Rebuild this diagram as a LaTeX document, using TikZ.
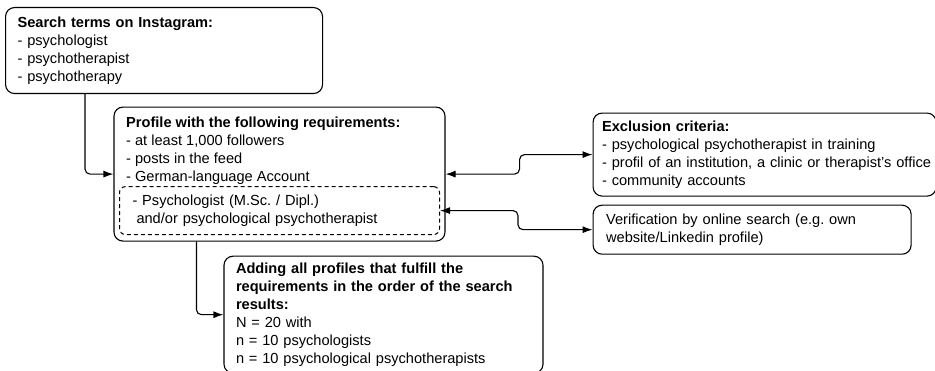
\documentclass[tikz,border=0pt]{standalone}
\usepackage{fontspec}
\setmainfont{Liberation Sans}
\usetikzlibrary{arrows.meta}
\usetikzlibrary{positioning}
\usetikzlibrary{fit}
\frenchspacing
\definecolor{fg}{rgb}{0,0,0}
\tikzstyle{box}=[draw=fg, rounded corners=9pt, line width=1.1pt, anchor=north west,
align=left, text=fg, inner xsep=12pt, inner ysep=0pt, font=\fontsize{14.6}{18}\selectfont]
\tikzstyle{plain}=[anchor=north west, align=left, text=fg, inner xsep=0pt, inner ysep=4pt,
font=\fontsize{14.6}{18}\selectfont]
\tikzstyle{dashbox}=[box, line width=1pt, dash pattern=on 4pt off 3pt, rounded corners=6pt, inner xsep=13pt]
\tikzstyle{myarrow}=[-{Latex[length=10pt,width=7pt]}, line width=1.1pt, rounded corners=5pt]
\tikzstyle{twoway}=[myarrow, {Latex[length=10pt,width=7pt]}-{Latex[length=10pt,width=7pt]}]

\begin{document}
\begin{tikzpicture}[x=1pt, y=-1pt]
    \useasboundingbox (0,0) rectangle (935,371);

    \node[box, text width=293pt, minimum height=86pt] (search) at (5,7)
        {\textbf{Search terms on Instagram:}\\- psychologist\\- psychotherapist\\- psychotherapy};

    \node[plain, below right=19pt and 121pt of search.south west] (req)
        {\textbf{Profile with the following requirements:}\\- at least 1,000 followers\\- posts in the feed\\- German-language Account};
    \node[dashbox, text width=294pt, minimum height=48pt, below right=73pt and -7pt of req.north west] (psych)
        {- Psychologist (M.Sc. / Dipl.)\\\hspace*{4pt}and/or psychological psychotherapist};
    \node[box, fit=(req)(psych), inner xsep=5pt, inner ysep=6pt] (profile) {};
    \draw[myarrow] ([xshift=80pt]search.south west) |- (profile.west) ;

    \node[box, text width=295pt, minimum height=117pt, below right=14pt and 110pt of profile.south west] (adding)
        {\textbf{Adding all profiles that fulfill the}\\\textbf{requirements in the order of the search}\\\textbf{results:}\\N = 20 with\\n = 10 psychologists\\n = 10 psychological psychotherapists};
    \draw[myarrow] ([xshift=83pt]profile.south west) |- (adding.west) ;

    \node[box, inner xsep=9pt, text width=325pt, minimum height=83pt, below right=6pt and 147pt of profile.north east] (exclusion)
        {\textbf{Exclusion criteria:}\\- psychological psychotherapist in training\\\mbox{- profil of an institution, a clinic or therapist's office}\\- community accounts};
    \draw[twoway] (profile.east) -- ++(74pt,0) |- (exclusion.west) ;

    \node[box, inner xsep=13pt, text width=292pt, minimum height=49pt, below right=8pt and 0pt of exclusion.south west] (verification)
        {Verification by online search (e.g. own\\website/Linkedin profile)};
    \draw[twoway] (psych.east) -- ++(78pt,0) |- (verification.west) ;
\end{tikzpicture}
\end{document}
